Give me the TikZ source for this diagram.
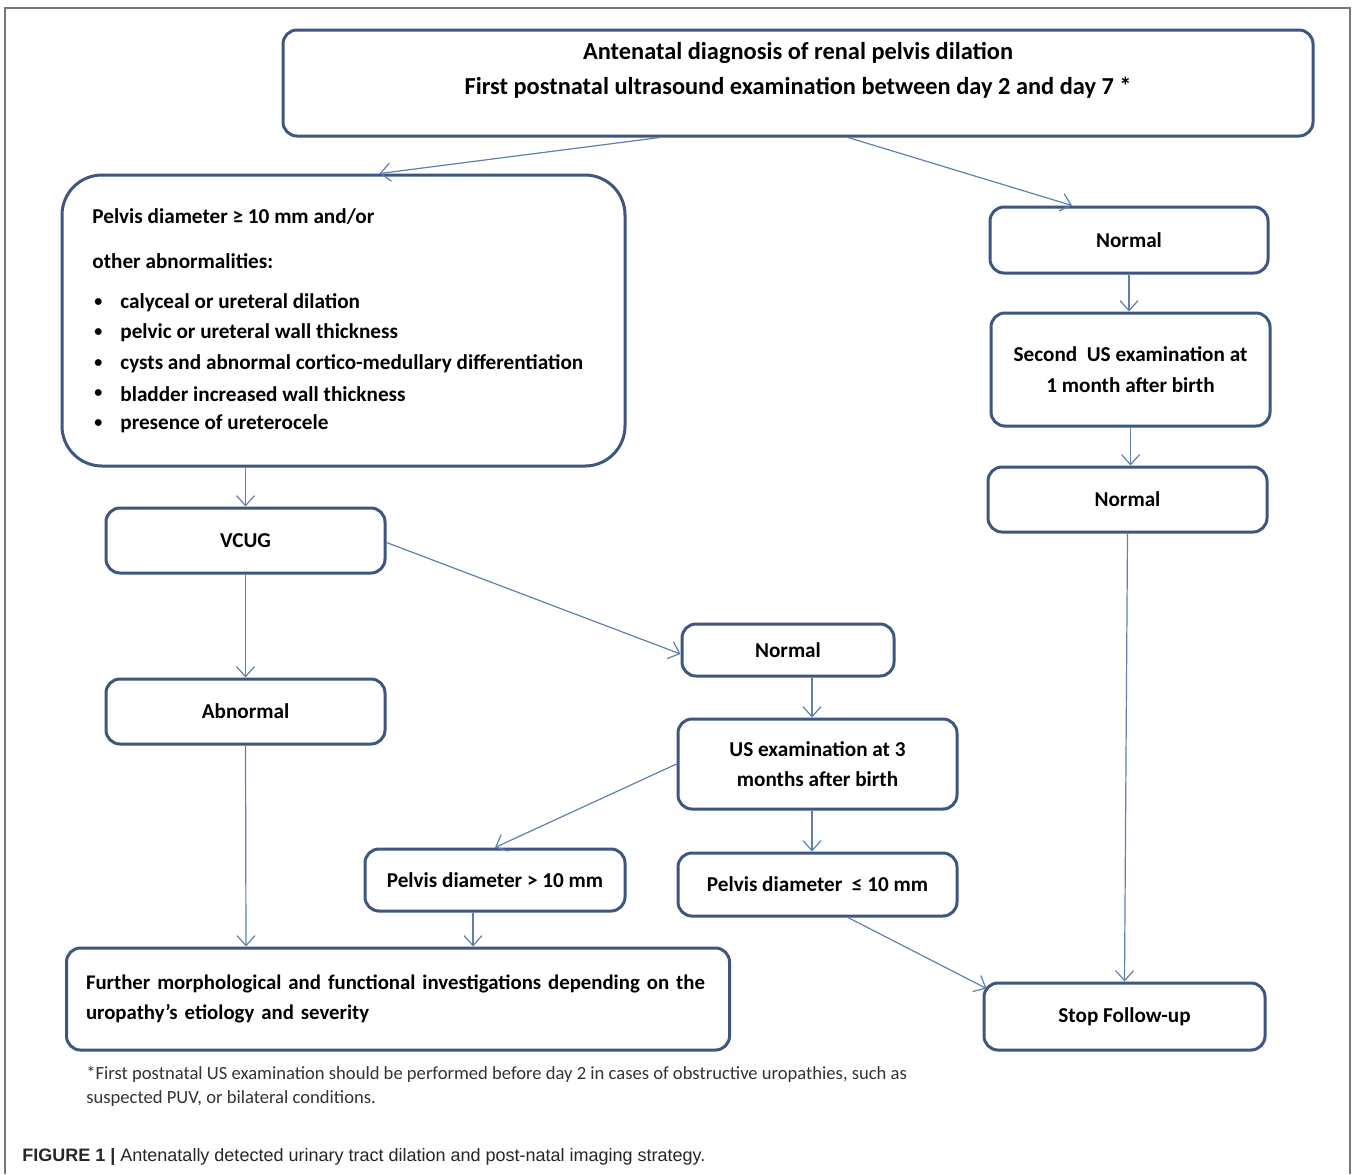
\documentclass[tikz,border=0pt]{standalone}
\usepackage{fontspec}
\setmainfont{Carlito}
\newfontfamily\capfont{Liberation Sans}
\usetikzlibrary{arrows.meta}

\begin{document}
\begin{tikzpicture}[x=0.5pt, y=-0.5pt, box/.style={
            draw=boxcolor,
            fill=white,
            line width=1.5pt,
            rounded corners=7pt,
            align=center,
            inner sep=0pt,
            font=\bfseries\fontsize{10.6}{15.3}\selectfont
          }, link/.style={
            draw=linkcolor,
            line width=0.6pt,
            -{Straight Barb[length=5pt,width=9pt]}
          }, item/.style={
            anchor=west,
            inner sep=0pt,
            font=\bfseries\fontsize{10.6}{12}\selectfont
          }]
        % Define colors
        \definecolor{boxcolor}{RGB}{62, 86, 128}
        \definecolor{linkcolor}{RGB}{95, 128, 175}
        \definecolor{framecolor}{RGB}{120, 120, 120}

    \useasboundingbox (0,0) rectangle (1358,1174);
    \draw[framecolor, line width=0.8pt] (5,1174) -- (5,8) -- (1350,8) -- (1350,1174);

    % top box
    \node[box, minimum width=515pt, minimum height=53pt] (diag) at (798,83) {};
    \node[align=center, inner sep=0pt, font=\bfseries\fontsize{12.2}{17.5}\selectfont] (diagtext) at (798,70)
        {Antenatal diagnosis of renal pelvis dilation\\First postnatal ultrasound examination between day 2 and day 7 *};

    % left branch
    \node[box, rounded corners=20pt, minimum width=281.5pt, minimum height=145.5pt] (abnorm) at (343.5,320.5) {};
    \node[item] (crit1) at (92,217) {Pelvis diameter ≥ 10 mm and/or};
    \node[item] (crit2) at (92,261) {other abnormalities:};
    \foreach \y/\t in {302/calyceal or ureteral dilation, 332/pelvic or ureteral wall thickness,
        363/cysts and abnormal cortico-medullary differentiation, 393/bladder increased wall thickness,
        423/presence of ureterocele}{
        \node[item, font=\bfseries\fontsize{8}{10}\selectfont] (bul\y) at (94,\y+1) {•};
        \node[item] (it\y) at (120,\y+1) {\t};
    }

    \node[box, minimum width=139.5pt, minimum height=32.5pt] (vcug) at (245.5,540.5) {VCUG};
    \node[box, minimum width=139.5pt, minimum height=32.5pt] (abn) at (245.5,711.5) {Abnormal};
    \node[box, minimum width=106pt, minimum height=26pt] (nmid) at (788,650) {Normal};
    \node[box, minimum width=139.5pt, minimum height=45pt] (us3) at (817.5,764) {US examination at 3\\months after birth};
    \node[box, minimum width=130pt, minimum height=31pt] (pgt) at (495,880) {Pelvis diameter > 10 mm};
    \node[box, minimum width=139.5pt, minimum height=31.5pt] (ple) at (817.5,884.5) {Pelvis diameter \ ≤ 10 mm};
    \node[box, minimum width=331.5pt, minimum height=51pt, text width=312pt, align=left,
        font=\bfseries\fontsize{10.4}{15}\selectfont] (further) at (398,999)
        {Further morphological and functional investigations depending on the\\uropathy’s etiology and severity};

    % right branch
    \node[box, minimum width=139pt, minimum height=33pt] (norm1) at (1129,240) {Normal};
    \node[box, minimum width=139.5pt, minimum height=56.5pt] (second) at (1130.5,369.5) {Second \ US examination at\\1 month after birth};
    \node[box, minimum width=139.5pt, minimum height=32.5pt] (norm2) at (1127.5,499.5) {Normal};
    \node[box, minimum width=140.5pt, minimum height=33.5pt] (stop) at (1124.5,1016.5) {Stop Follow-up};

    % connectors
    \draw[link] ([xshift=-69pt]diag.south) -- ([xshift=18pt]abnorm.north);
    \draw[link] ([xshift=25pt]diag.south) -- ([xshift=-28.5pt]norm1.north);
    \draw[link] (norm1.south) -- (norm1.south |- second.north);
    \draw[link] (second.south) -- (second.south |- norm2.north);
    \draw[link] (norm2.south) -- (stop.north);
    \draw[link] ([xshift=-49pt]abnorm.south) -- (vcug.north);
    \draw[link] (vcug.south) -- (abn.north);
    \draw[link] ([yshift=-1pt]vcug.east) -- ([yshift=-2pt]nmid.west);
    \draw[link] ([xshift=12pt]nmid.south) -- ([xshift=-2.75pt]us3.north);
    \draw[link] (us3.west) -- (pgt.north);
    \draw[link] ([xshift=-2.75pt]us3.south) -- ([xshift=-2.75pt]ple.north);
    \draw[link] ([xshift=-11pt]pgt.south) -- ([xshift=37.5pt]further.north);
    \draw[link] (abn.south) -- ([xshift=-76pt]further.north);
    \draw[link] ([xshift=15.25pt]ple.south) -- ([xshift=2pt,yshift=-3.5pt]stop.north west);

    % notes
    \node[anchor=west, align=left, inner sep=0pt, text=black!80, font=\fontsize{9.3}{12}\selectfont] (footnote) at (86,1086)
        {*First postnatal US examination should be performed before day 2 in cases of obstructive uropathies, such as\\suspected PUV, or bilateral conditions.};
    \node[anchor=west, inner sep=0pt, text=black!85, font=\capfont\fontsize{9}{10}\selectfont] (caption) at (22,1157)
        {\textbf{FIGURE 1 |} Antenatally detected urinary tract dilation and post-natal imaging strategy.};
    \end{tikzpicture}
\end{document}
